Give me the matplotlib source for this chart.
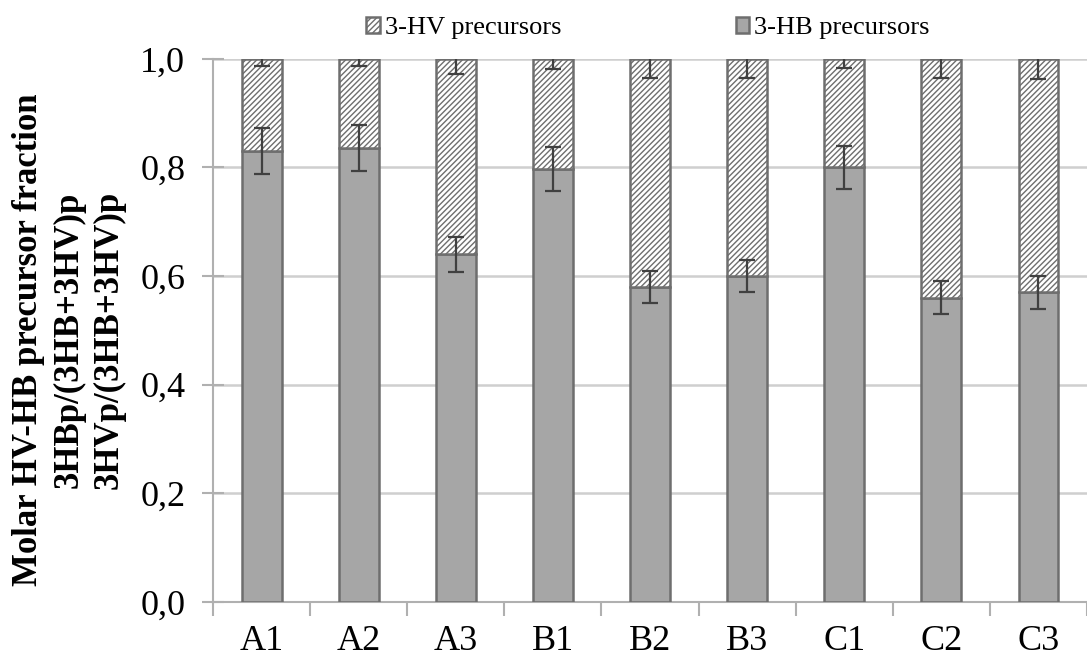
import matplotlib.pyplot as plt
import numpy as np

plt.rcParams['font.family'] = ['Liberation Serif', 'DejaVu Serif']
plt.rcParams['hatch.linewidth'] = 1.0
plt.rcParams['hatch.color'] = '#3a3a3a'

# samples and molar fractions
samples = ['A1', 'A2', 'A3', 'B1', 'B2', 'B3', 'C1', 'C2', 'C3']
hb_frac = [0.83, 0.836, 0.64, 0.797, 0.58, 0.60, 0.80, 0.56, 0.57]
hb_err = [0.042, 0.042, 0.032, 0.04, 0.03, 0.03, 0.04, 0.03, 0.03]
hv_err = [0.013, 0.013, 0.028, 0.018, 0.035, 0.035, 0.017, 0.035, 0.037]
hv_frac = [1 - v for v in hb_frac]

y_ticks = [0.0, 0.2, 0.4, 0.6, 0.8, 1.0]

fig = plt.figure(figsize=(10.87, 6.68), dpi=100)
ax = fig.add_axes([0.196, 0.099, 0.804, 0.813])

x = np.arange(len(samples))
w = 0.41
edge = '#6e6e6e'
err_kw = dict(ecolor='#404040', elinewidth=1.6, capsize=6, capthick=1.6)

ax.bar(x, hb_frac, w, color='#a6a6a6', edgecolor=edge, linewidth=1.8,
       yerr=hb_err, error_kw=err_kw, label='3-HB precursors', zorder=3)
ax.bar(x, hv_frac, w, bottom=hb_frac, color='white', edgecolor=edge,
       linewidth=1.8, hatch='//////', yerr=hv_err, error_kw=err_kw,
       label='3-HV precursors', zorder=3)

ax.set_ylim(0, 1.0)
ax.set_xlim(-0.5, 8.45)
ax.set_yticks(y_ticks)
ax.set_yticklabels([f'{v:.1f}'.replace('.', ',') for v in y_ticks], fontsize=26)
ax.yaxis.grid(True, color='#cfcfcf', linewidth=1.8, zorder=0)
ax.set_axisbelow(True)

# category boundaries carry the ticks, names sit between them
ax.set_xticks(np.arange(-0.5, len(samples), 1.0))
ax.set_xticklabels([])
ax.set_xticks(x, minor=True)
ax.set_xticklabels(samples, minor=True, fontsize=26)
ax.tick_params(axis='x', which='major', direction='out', length=10,
               width=1.5, color='#b0b0b0')
ax.tick_params(axis='x', which='minor', length=0, pad=17)
ax.tick_params(axis='y', direction='inout', length=16, width=1.5,
               color='#b0b0b0', pad=12)

for s in ['top', 'right']:
    ax.spines[s].set_visible(False)
for s in ['left', 'bottom']:
    ax.spines[s].set_color('#b0b0b0')
    ax.spines[s].set_linewidth(1.5)

fig.text(0.0635, 0.491,
         'Molar HV-HB precursor fraction\n3HBp/(3HB+3HV)p\n3HVp/(3HB+3HV)p',
         rotation=90, ha='center', va='center', multialignment='center',
         fontsize=25, fontweight='bold', linespacing=1.3)

handles, labels = ax.get_legend_handles_labels()
fig.legend(handles[::-1], labels[::-1], loc='center left',
           bbox_to_anchor=(0.325, 0.958), ncol=2, frameon=False,
           fontsize=19, handlelength=0.5, handleheight=0.55,
           handletextpad=0.2, columnspacing=6.6, borderpad=0)

fig.savefig('out.png', dpi=100)
